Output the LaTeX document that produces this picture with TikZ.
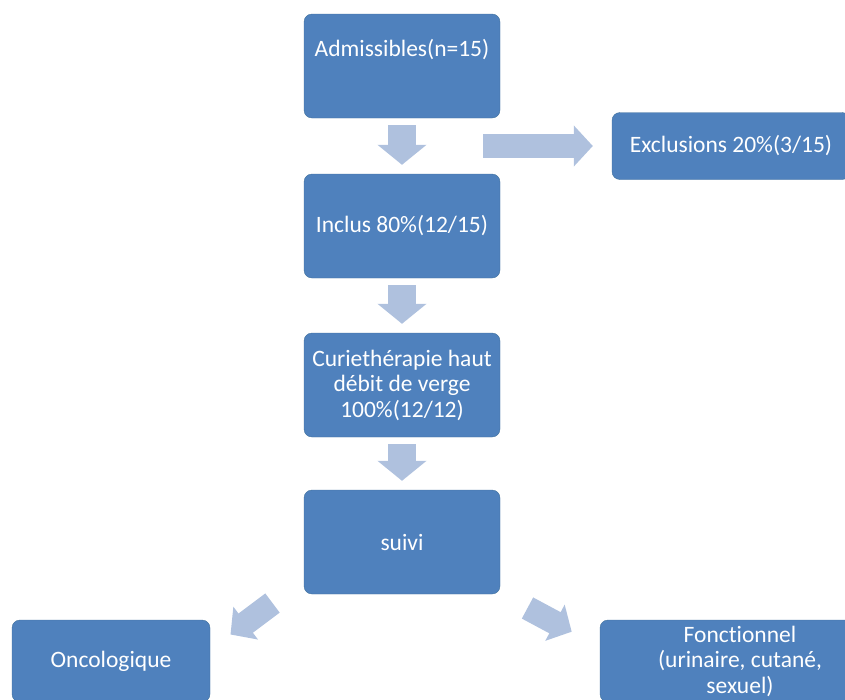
\documentclass[tikz,border=0pt]{standalone}
\usepackage{fontspec}
\setmainfont{Carlito}[Ligatures=NoCommon]
\usetikzlibrary{arrows.meta,calc}
\definecolor{boxblue}{HTML}{4F81BD}
\definecolor{boxline}{HTML}{41719C}
\definecolor{arrowblue}{HTML}{AFC1DE}

\begin{document}
\begin{tikzpicture}[x=1pt, y=-1pt,
  every node/.style = {shape=rectangle, rounded corners=8pt,
    draw=boxline, fill=boxblue, text=white, align=center,
    inner sep=2pt, font=\fontsize{23.5}{25.5}\selectfont},
  box/.style = {minimum width=196pt, minimum height=104pt},
  downarrow/.style = {draw=arrowblue, line width=28pt,
    -{Triangle[length=20pt, width=48pt]},
    shorten <=7pt, shorten >=9pt},
  sidearrow/.style = {draw=arrowblue, line width=24pt,
    -{Triangle[length=19pt, width=40pt]}}]
  \useasboundingbox (0,0) rectangle (845,699);
  \clip (0,0) rectangle (845,699);
  % main column
  \node[box] (adm) at (402,66) {Admissibles(n=15)\\[10pt] \mbox{}};
  \node[box] (inc) at (402,226) {Inclus 80\%(12/15)};
  \node[box] (curie) at (402,385) {Curiethérapie haut\\débit de verge\\100\%(12/12)};
  \node[box] (suivi) at (402,542) {suivi};
  % side boxes
  \node[minimum width=238pt, minimum height=67pt] (excl) at (731,146) {Exclusions 20\%(3/15)};
  \node[minimum width=198pt, minimum height=82pt] (onco) at (111,661) {Oncologique};
  \node[minimum width=280pt, minimum height=82pt] (fonc) at (740,661)
    {Fonctionnel\\(urinaire, cutané,\\sexuel)};
  % arrows
  \draw[downarrow] (adm) -- (inc);
  \draw[downarrow] (inc) -- (curie);
  \draw[downarrow] (curie) -- (suivi);
  \coordinate (excl out) at (483,146);
  \draw[sidearrow, shorten >=19pt] (excl out) -- (excl);
  \coordinate (onco out) at (272.5,603);
  \coordinate (onco in) at (230.5,634.5);
  \draw[sidearrow] (onco out) -- (onco in);
  \coordinate (fonc out) at (527.5,608);
  \coordinate (fonc in) at (571.7,631.7);
  \draw[sidearrow] (fonc out) -- (fonc in);
\end{tikzpicture}
\end{document}
